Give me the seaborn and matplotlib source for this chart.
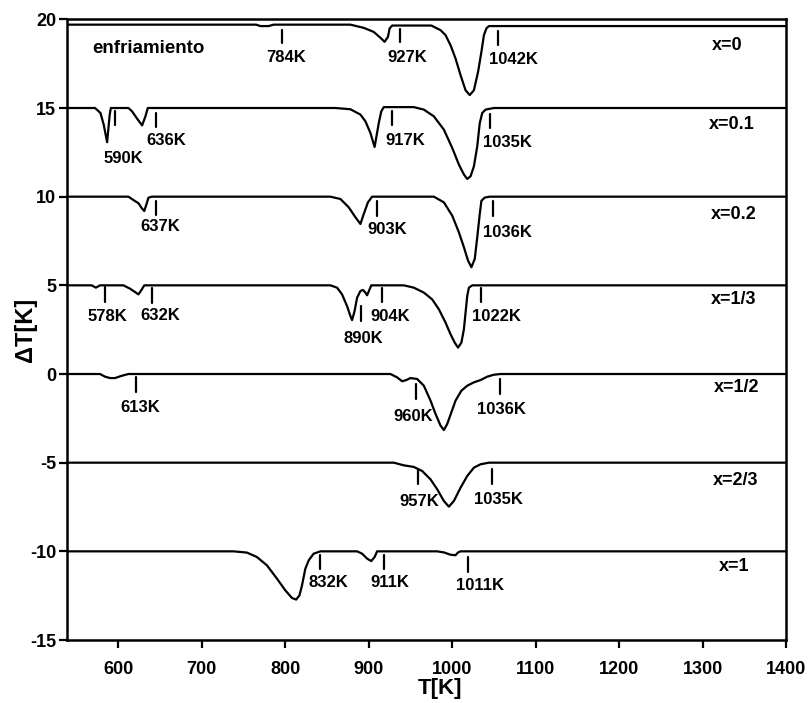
import matplotlib
matplotlib.use("Agg")
import matplotlib.pyplot as plt
import seaborn as sns

# DTA cooling curves (enfriamiento), one trace per composition x
temps_x0 = [538, 765, 770, 780, 786, 878, 894, 906, 914, 919, 923, 925, 928, 975, 986, 992, 998,
            1004, 1010, 1016, 1021, 1026, 1031, 1035, 1038, 1041, 1044, 1400]
dT_x0 = [19.7, 19.7, 19.62, 19.62, 19.7, 19.7, 19.52, 19.29, 18.96, 18.73, 19.01, 19.49, 19.65, 19.65,
         19.39, 19.11, 18.54, 17.79, 16.85, 16.0, 15.73, 16.0, 17.04, 18.17, 19.11, 19.49, 19.62, 19.62]

temps_x01 = [538, 572, 578.5, 582.4, 586.5, 589.6, 591, 612, 616.4, 622.4, 628.4, 632.4, 635.2, 860,
             878, 890, 896, 902, 907, 912, 915, 918, 954, 966, 978, 990, 1000, 1008, 1014, 1018, 1022,
             1026, 1030, 1033, 1036, 1040, 1050, 1400]
dT_x01 = [15.0, 15.0, 14.72, 14.06, 13.07, 14.63, 15.0, 15.0, 14.81, 14.40, 14.02, 14.53, 15.0, 15.0,
          14.93, 14.63, 14.25, 13.59, 12.80, 14.15, 14.81, 15.05, 15.05, 14.91, 14.53, 13.78, 12.75,
          11.81, 11.25, 11.0, 11.15, 11.71, 12.84, 14.15, 14.72, 14.91, 15.0, 15.0]

temps_x02 = [538, 612, 618, 624, 628, 631, 634, 636, 640, 854, 866, 876, 884, 890, 894, 899, 904, 978,
             990, 1000, 1008, 1014, 1019, 1023, 1027, 1030, 1033, 1035, 1039, 1045, 1400]
dT_x02 = [10, 10, 9.81, 9.63, 9.35, 9.19, 9.63, 9.94, 10, 10, 9.87, 9.40, 8.84, 8.46, 9.02, 9.68, 10,
          10, 9.68, 8.93, 7.99, 7.15, 6.39, 6.02, 6.49, 7.71, 9.02, 9.77, 9.95, 10, 10]

temps_x13 = [538, 568, 573, 578, 606, 614, 620, 624, 627.5, 631, 854, 862, 868, 874, 878, 880, 883,
             886, 890, 893, 896, 898, 901, 903, 942, 954, 966, 976, 984, 992, 998, 1003, 1007, 1011,
             1014, 1016, 1018, 1020, 1024, 1400]
dT_x13 = [5, 5, 4.87, 5, 5, 4.81, 4.62, 4.49, 4.73, 5, 5, 4.87, 4.49, 3.83, 3.27, 3.04, 3.55, 4.3,
          4.68, 4.74, 4.59, 4.44, 4.77, 5, 5, 4.87, 4.59, 4.21, 3.65, 2.9, 2.24, 1.77, 1.49, 1.77,
          2.52, 3.46, 4.4, 4.87, 5, 5]

temps_x12 = [538, 578, 584, 590, 596, 602, 608, 612, 926, 934, 940, 945, 950, 958, 966, 974, 980, 986,
             990, 994, 999, 1004, 1011, 1018, 1026, 1034, 1042, 1050, 1058, 1400]
dT_x12 = [0, 0, -0.15, -0.23, -0.23, -0.13, -0.05, 0, 0, -0.19, -0.41, -0.34, -0.23, -0.28, -0.66,
          -1.5, -2.25, -2.91, -3.16, -2.82, -2.16, -1.5, -0.94, -0.66, -0.47, -0.34, -0.15, -0.04, 0, 0]

temps_x23 = [538, 930, 942, 954, 964, 974, 982, 990, 996, 1002, 1010, 1018, 1026, 1034, 1044, 1400]
dT_x23 = [-5, -5, -5.15, -5.24, -5.47, -5.94, -6.5, -7.16, -7.48, -7.16, -6.41, -5.75, -5.28, -5.09,
          -5.0, -5.0]

temps_x1 = [538, 738, 754, 766, 778, 790, 800, 808, 813, 817, 820, 824, 828, 834, 842, 886, 892, 898,
            903, 907, 910, 982, 990, 998, 1004, 1007, 1010, 1400]
dT_x1 = [-10, -10, -10.07, -10.32, -10.79, -11.54, -12.2, -12.63, -12.72, -12.48, -11.92, -10.98,
         -10.51, -10.13, -10, -10, -10.13, -10.41, -10.55, -10.32, -10, -10, -10.06, -10.19, -10.22,
         -10.06, -10, -10]

# transition markers: (tick T, tick top, tick bottom, label, label T, label dT)
marks = [
    (796, 19.38, 18.65, "784K", 776.6, 17.86),
    (938, 19.45, 18.72, "927K", 922, 17.84),
    (1054.4, 19.34, 18.53, "1042K", 1043.6, 17.73),
    (596.4, 14.85, 14.02, "590K", 582.4, 12.15),
    (645.6, 14.72, 13.91, "636K", 633.6, 13.14),
    (928.2, 14.81, 14.06, "917K", 920, 13.18),
    (1045.4, 14.64, 13.86, "1035K", 1037.3, 13.03),
    (644.6, 9.76, 8.97, "637K", 626.4, 8.31),
    (910.2, 9.77, 8.93, "903K", 898.2, 8.14),
    (1048.8, 9.75, 8.93, "1036K", 1037.3, 7.97),
    (584.4, 4.89, 4.06, "578K", 562.5, 3.27),
    (640.4, 4.87, 4.02, "632K", 626.4, 3.30),
    (890.2, 3.83, 2.99, "890K", 870.2, 2.01),
    (916.2, 4.83, 4.04, "904K", 902.2, 3.23),
    (1034.9, 4.83, 4.04, "1022K", 1023.3, 3.23),
    (621.6, -0.19, -1.04, "613K", 602.4, -1.88),
    (956.1, -0.56, -1.41, "960K", 929.4, -2.39),
    (1057.2, -0.28, -1.13, "1036K", 1030, -2.01),
    (958.9, -5.38, -6.22, "957K", 936.2, -7.20),
    (1048, -5.38, -6.22, "1035K", 1026, -7.07),
    (841.4, -10.23, -10.98, "832K", 828.3, -11.73),
    (918.2, -10.23, -10.98, "911K", 901.4, -11.73),
    (1019.3, -10.32, -11.16, "1011K", 1004, -11.90),
]

# composition labels at the right
comp_labels = ["x=0", "x=0.1", "x=0.2", "x=1/3", "x=1/2", "x=2/3", "x=1"]
comp_T = [1311, 1308, 1310, 1310, 1314, 1312, 1320]
comp_dT = [18.5, 14.06, 8.97, 4.21, -0.75, -6.0, -10.83]

sns.set_style("ticks")
plt.rcParams["font.family"] = ["Liberation Sans", "DejaVu Sans"]
plt.rcParams["font.weight"] = "bold"
plt.rcParams["text.color"] = "black"
plt.rcParams["axes.labelcolor"] = "black"
plt.rcParams["axes.unicode_minus"] = False

fig = plt.figure(figsize=(8.08, 7.03), dpi=100)
ax = fig.add_axes([0.0825, 0.0896, 0.8903, 0.8829])

curves = [(temps_x0, dT_x0), (temps_x01, dT_x01), (temps_x02, dT_x02), (temps_x13, dT_x13),
          (temps_x12, dT_x12), (temps_x23, dT_x23), (temps_x1, dT_x1)]
for T, d in curves:
    sns.lineplot(x=T, y=d, ax=ax, color="black", linewidth=1.6, sort=False, estimator=None)

for tx, top, bot, lab, lx, ly in marks:
    ax.plot([tx, tx], [top, bot], color="black", linewidth=1.6)
    ax.text(lx, ly, lab, ha="left", va="center", fontsize=12, fontweight="bold", color="black")

for lab, lx, ly in zip(comp_labels, comp_T, comp_dT):
    ax.text(lx, ly, lab, ha="left", va="center", fontsize=13, fontweight="bold", color="black")

ax.text(569, 18.38, "enfriamiento", ha="left", va="center", fontsize=13.5, fontweight="bold",
        color="black")

ax.set_xlim(538, 1400)
ax.set_ylim(-15, 20)
ax.set_xticks(range(600, 1401, 100))
ax.set_yticks(range(-15, 21, 5))
ax.tick_params(axis="both", direction="out", length=6, width=1.6, labelsize=13, colors="black")
ax.tick_params(axis="x", pad=9)
ax.tick_params(axis="y", pad=1.5)
for lbl in ax.get_xticklabels() + ax.get_yticklabels():
    lbl.set_fontweight("bold")
for sp in ax.spines.values():
    sp.set_visible(True)
    sp.set_linewidth(1.8)
    sp.set_color("black")

ax.set_xlabel("T[K]", fontsize=16, fontweight="bold")
ax.set_ylabel("ΔT[K]", fontsize=17, fontweight="bold")
ax.xaxis.set_label_coords(0.519, -0.061)
ax.yaxis.set_label_coords(-0.041, 0.5)

fig.savefig("out.png", dpi=100)
